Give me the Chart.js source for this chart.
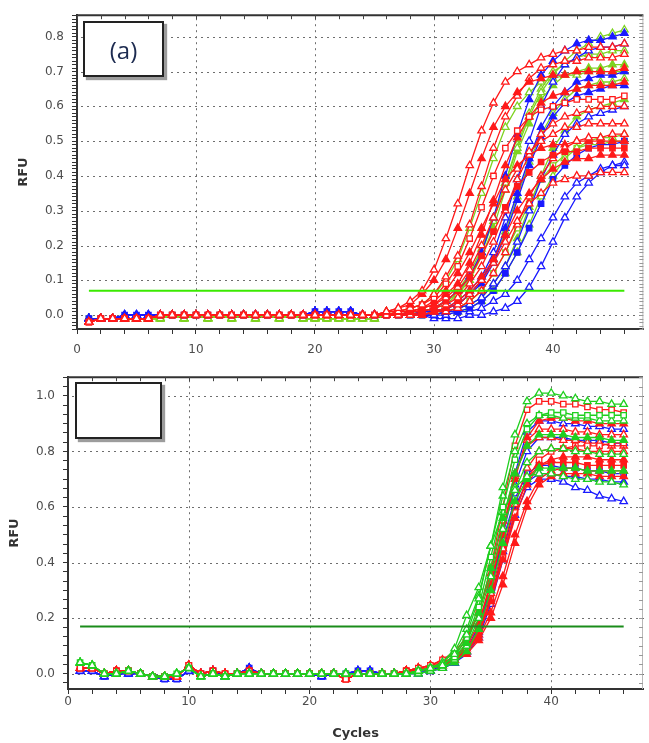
<!DOCTYPE html>
<html>
<head>
<meta charset="utf-8">
<script src="https://cdn.jsdelivr.net/npm/chart.js@4.4.1/dist/chart.umd.min.js"></script>
<style>
  html, body { margin: 0; padding: 0; background: #fff; }
  body { width: 649px; height: 743px; position: relative; overflow: hidden; }
  canvas { position: absolute; left: 0; }
  .tag {
    position: absolute; box-sizing: border-box; background: #fff;
    border: 2px solid #222; box-shadow: 3px 3px 1px #9c9c9c;
    display: flex; align-items: center; justify-content: center;
    font-family: 'Open Sans', sans-serif; font-size: 24px; color: #1d2b50;
  }
</style>
</head>
<body>
<canvas id="topChart" width="649" height="362" style="top:0"></canvas>
<canvas id="bottomChart" width="649" height="381" style="top:362px"></canvas>
<div class="tag" style="left:83px;top:21px;width:81px;height:56px">(a)</div>
<div class="tag" style="left:75px;top:382px;width:87px;height:57px"></div>
<script>
// cycles and axis ticks
const cycles = [1,2,3,4,5,6,7,8,9,10,11,12,13,14,15,16,17,18,19,20,21,22,23,24,25,26,27,28,29,30,31,32,33,34,35,36,37,38,39,40,41,42,43,44,45,46];
const xTicks = [0,2,4,6,8,10,12,14,16,18,20,22,24,26,28,30,32,34,36,38,40,42,44,46];
const xLabels = [0,10,20,30,40];
const topYLabels = [0.0,0.1,0.2,0.3,0.4,0.5,0.6,0.7,0.8];
const bottomYLabels = [0.0,0.2,0.4,0.6,0.8,1.0];

const topThreshold = 0.07;
const bottomThreshold = 0.17;

// panel (a): baselines for cycles 1-25
const topBaseRed   = [-0.02,-0.01,-0.01,-0.01,-0.01,-0.01,0.00,0.00,0.00,0.00,0.00,0.00,0.00,0.00,0.00,0.00,0.00,0.00,0.00,0.00,0.00,0.00,0.00,0.00,0.00];
const topBaseBlue  = [-0.01,-0.01,-0.01,0.00,0.00,0.00,0.00,0.00,0.00,0.00,0.00,0.00,0.00,0.00,0.00,0.00,0.00,0.00,0.00,0.01,0.01,0.01,0.01,0.00,0.00];
const topBaseGreen = [-0.01,-0.01,-0.01,-0.01,-0.01,-0.01,-0.01,0.00,-0.01,0.00,-0.01,0.00,-0.01,0.00,-0.01,0.00,-0.01,0.00,-0.01,-0.01,-0.01,-0.01,-0.01,-0.01,-0.01];

// panel (a): cycles 26-46
const topRed = [
  [0.01,0.02,0.04,0.07,0.13,0.22,0.32,0.43,0.53,0.61,0.67,0.70,0.72,0.74,0.75,0.76,0.76,0.77,0.77,0.77,0.78],
  [0.01,0.02,0.03,0.06,0.10,0.16,0.25,0.35,0.45,0.54,0.60,0.64,0.67,0.68,0.69,0.69,0.70,0.70,0.70,0.70,0.71],
  [0.01,0.01,0.02,0.03,0.06,0.11,0.17,0.26,0.37,0.48,0.57,0.63,0.68,0.71,0.72,0.73,0.73,0.74,0.74,0.74,0.75],
  [0.00,0.01,0.02,0.03,0.05,0.09,0.14,0.22,0.31,0.40,0.48,0.53,0.57,0.59,0.60,0.61,0.62,0.62,0.62,0.62,0.63],
  [0.00,0.01,0.01,0.02,0.03,0.06,0.09,0.15,0.23,0.33,0.43,0.51,0.57,0.61,0.63,0.64,0.65,0.66,0.66,0.66,0.67],
  [0.00,0.00,0.01,0.02,0.03,0.05,0.08,0.13,0.20,0.28,0.36,0.42,0.47,0.50,0.52,0.54,0.54,0.55,0.55,0.55,0.55],
  [0.00,0.00,0.01,0.01,0.02,0.04,0.07,0.11,0.17,0.24,0.31,0.37,0.41,0.44,0.46,0.47,0.47,0.48,0.48,0.48,0.48],
  [0.00,0.00,0.00,0.01,0.02,0.03,0.05,0.09,0.14,0.21,0.30,0.39,0.46,0.52,0.55,0.57,0.58,0.59,0.60,0.60,0.60],
  [0.00,0.00,0.00,0.00,0.01,0.02,0.04,0.07,0.11,0.16,0.23,0.30,0.35,0.39,0.42,0.44,0.45,0.45,0.46,0.46,0.46],
  [0.00,0.00,0.00,0.00,0.01,0.02,0.03,0.06,0.10,0.15,0.21,0.27,0.32,0.35,0.38,0.39,0.40,0.40,0.41,0.41,0.41],
  [0.00,0.00,0.00,0.00,0.01,0.01,0.02,0.04,0.07,0.12,0.18,0.26,0.34,0.40,0.45,0.48,0.50,0.51,0.51,0.52,0.52],
  [0.00,0.01,0.01,0.02,0.04,0.07,0.12,0.18,0.25,0.32,0.39,0.43,0.46,0.48,0.49,0.49,0.50,0.50,0.50,0.50,0.50]
];
const topBlue = [
  [0.00,0.00,0.01,0.01,0.02,0.04,0.07,0.11,0.18,0.28,0.40,0.52,0.62,0.69,0.73,0.76,0.78,0.79,0.79,0.80,0.81],
  [0.00,0.00,0.00,0.01,0.01,0.02,0.04,0.07,0.11,0.18,0.28,0.39,0.50,0.60,0.67,0.72,0.74,0.76,0.77,0.77,0.78],
  [0.00,0.00,0.00,0.01,0.01,0.02,0.03,0.06,0.10,0.16,0.25,0.35,0.45,0.54,0.60,0.64,0.67,0.68,0.69,0.69,0.70],
  [0.00,0.00,0.00,0.00,0.00,0.01,0.02,0.03,0.05,0.09,0.14,0.21,0.30,0.39,0.46,0.52,0.55,0.57,0.58,0.59,0.60],
  [0.00,0.00,0.00,0.00,0.00,0.01,0.01,0.02,0.04,0.07,0.12,0.18,0.25,0.32,0.39,0.43,0.46,0.48,0.49,0.49,0.50],
  [0.00,0.00,0.00,0.00,0.00,0.00,0.01,0.01,0.02,0.04,0.06,0.10,0.16,0.22,0.28,0.34,0.38,0.40,0.42,0.43,0.43],
  [0.00,0.00,0.00,0.00,-0.01,-0.01,-0.01,0.00,0.00,0.01,0.02,0.04,0.08,0.14,0.21,0.28,0.34,0.38,0.41,0.43,0.44],
  [0.00,0.00,0.00,0.01,0.01,0.02,0.03,0.06,0.09,0.15,0.23,0.33,0.43,0.51,0.57,0.61,0.63,0.64,0.65,0.66,0.66]
];
const topGreen = [
  [0.00,0.00,0.01,0.01,0.02,0.04,0.07,0.12,0.19,0.28,0.38,0.48,0.57,0.64,0.69,0.73,0.76,0.78,0.80,0.81,0.82],
  [0.00,0.00,0.01,0.01,0.02,0.04,0.06,0.11,0.18,0.27,0.38,0.49,0.58,0.65,0.70,0.72,0.74,0.75,0.75,0.76,0.76],
  [0.00,0.00,0.01,0.01,0.02,0.03,0.06,0.10,0.17,0.25,0.36,0.47,0.55,0.62,0.66,0.69,0.70,0.71,0.71,0.72,0.72],
  [0.00,0.00,0.00,0.01,0.01,0.02,0.03,0.06,0.10,0.16,0.24,0.34,0.44,0.52,0.58,0.62,0.65,0.66,0.67,0.67,0.68],
  [0.00,0.00,0.00,0.00,0.00,0.01,0.01,0.02,0.04,0.07,0.12,0.18,0.26,0.34,0.40,0.45,0.48,0.50,0.51,0.51,0.52],
  [0.00,0.00,0.00,0.00,0.01,0.01,0.02,0.04,0.07,0.12,0.18,0.25,0.32,0.39,0.43,0.46,0.48,0.49,0.49,0.50,0.50],
  [0.01,0.01,0.02,0.03,0.06,0.10,0.16,0.25,0.35,0.45,0.54,0.60,0.64,0.67,0.68,0.69,0.69,0.70,0.70,0.70,0.70],
  [0.00,0.00,0.00,0.00,0.01,0.01,0.02,0.03,0.05,0.09,0.14,0.22,0.31,0.40,0.48,0.53,0.57,0.59,0.60,0.61,0.62]
];

// bottom panel: baselines for cycles 1-28
const botBaseRed   = [0.02,0.02,0.00,0.01,0.01,0.00,-0.01,-0.01,-0.01,0.03,0.00,0.01,0.00,0.00,0.01,0.00,0.00,0.00,0.00,0.00,0.00,0.00,-0.02,0.00,0.00,0.00,0.00,0.01];
const botBaseBlue  = [0.01,0.01,-0.01,0.00,0.00,0.00,-0.01,-0.02,-0.02,0.01,0.00,0.01,-0.01,0.00,0.02,0.00,0.00,0.00,0.00,0.00,-0.01,0.00,0.00,0.01,0.01,0.00,0.00,0.00];
const botBaseGreen = [0.04,0.03,0.00,0.00,0.01,0.00,-0.01,-0.01,0.00,0.02,-0.01,0.00,-0.01,0.00,0.00,0.00,0.00,0.00,0.00,0.00,0.00,0.00,0.00,0.00,0.00,0.00,0.00,0.00];

// bottom panel: cycles 29-46
const botRed = [
  [0.02,0.03,0.05,0.07,0.12,0.22,0.38,0.60,0.82,0.95,0.98,0.98,0.97,0.97,0.96,0.95,0.95,0.94],
  [0.02,0.02,0.03,0.06,0.10,0.18,0.32,0.50,0.70,0.85,0.91,0.92,0.92,0.91,0.91,0.90,0.90,0.90],
  [0.01,0.02,0.04,0.06,0.09,0.16,0.29,0.45,0.61,0.74,0.80,0.81,0.81,0.81,0.80,0.80,0.80,0.80],
  [0.01,0.02,0.03,0.05,0.08,0.14,0.26,0.41,0.56,0.68,0.75,0.77,0.78,0.78,0.78,0.77,0.77,0.77],
  [0.02,0.03,0.04,0.05,0.08,0.13,0.22,0.35,0.50,0.62,0.70,0.73,0.74,0.74,0.73,0.73,0.73,0.73],
  [0.01,0.02,0.03,0.05,0.09,0.15,0.27,0.42,0.58,0.70,0.77,0.80,0.81,0.82,0.82,0.82,0.83,0.83],
  [0.02,0.02,0.03,0.05,0.07,0.12,0.20,0.32,0.47,0.60,0.68,0.71,0.72,0.72,0.72,0.71,0.71,0.71],
  [0.01,0.02,0.04,0.06,0.10,0.18,0.33,0.52,0.71,0.84,0.88,0.88,0.88,0.87,0.87,0.86,0.86,0.86],
  [0.01,0.02,0.03,0.05,0.08,0.15,0.27,0.43,0.58,0.70,0.75,0.76,0.76,0.76,0.75,0.75,0.75,0.75],
  [0.02,0.03,0.05,0.08,0.13,0.22,0.36,0.55,0.72,0.82,0.85,0.85,0.84,0.84,0.83,0.83,0.82,0.82]
];
const botBlue = [
  [0.01,0.01,0.02,0.04,0.08,0.15,0.30,0.50,0.72,0.87,0.91,0.91,0.90,0.90,0.89,0.89,0.88,0.88],
  [0.00,0.01,0.02,0.04,0.07,0.13,0.25,0.41,0.57,0.67,0.70,0.70,0.69,0.67,0.66,0.64,0.63,0.62],
  [0.01,0.01,0.02,0.04,0.08,0.14,0.27,0.44,0.60,0.69,0.72,0.72,0.71,0.71,0.70,0.70,0.69,0.69],
  [0.00,0.01,0.02,0.04,0.08,0.16,0.31,0.50,0.68,0.80,0.85,0.85,0.85,0.84,0.84,0.84,0.83,0.83],
  [0.01,0.01,0.03,0.05,0.09,0.17,0.31,0.48,0.63,0.72,0.75,0.75,0.74,0.74,0.73,0.73,0.72,0.72]
];
const botGreen = [
  [0.01,0.02,0.03,0.07,0.14,0.27,0.46,0.67,0.86,0.98,1.01,1.01,1.00,0.99,0.98,0.98,0.97,0.97],
  [0.01,0.02,0.03,0.06,0.13,0.24,0.42,0.60,0.77,0.88,0.93,0.94,0.94,0.93,0.93,0.93,0.93,0.93],
  [0.01,0.02,0.03,0.06,0.11,0.22,0.38,0.56,0.72,0.82,0.86,0.86,0.86,0.85,0.85,0.85,0.84,0.84],
  [0.00,0.01,0.02,0.05,0.10,0.20,0.35,0.52,0.66,0.76,0.80,0.81,0.81,0.80,0.80,0.79,0.79,0.79],
  [0.01,0.02,0.04,0.09,0.21,0.31,0.46,0.58,0.67,0.71,0.72,0.72,0.71,0.70,0.70,0.69,0.69,0.68],
  [0.00,0.01,0.02,0.04,0.08,0.16,0.30,0.47,0.62,0.70,0.74,0.74,0.74,0.74,0.73,0.73,0.73,0.73],
  [0.01,0.02,0.04,0.08,0.16,0.28,0.46,0.64,0.80,0.90,0.93,0.93,0.92,0.92,0.92,0.91,0.91,0.91]
];

// marker styles per series
const topRedMarks   = ['open','fill','open','rect','fill','open','rectFill','open','fill','open','open','fill'];
const topBlueMarks  = ['fill','open','fill','open','rectFill','open','open','fill'];
const topGreenMarks = ['open','open','fill','open','open','rect','open','fill'];
const botRedMarks   = ['rect','fill','open','fill','fill','rect','fill','open','rectFill','open'];
const botBlueMarks  = ['open','open','fill','open','rect'];
const botGreenMarks = ['open','rect','fill','open','open','fill','open'];

const RED = '#ff1a1a';
const BLUE = '#1a1aff';
const LIME = '#7ed321';
const GREEN = '#1fcf1f';
const FONT = "'DejaVu Sans', sans-serif";

function curve(values, color, mark) {
    const rect = mark.startsWith('rect');
    const filled = mark === 'fill' || mark === 'rectFill';
    return {
        data: values,
        borderColor: color,
        borderWidth: 1.3,
        pointStyle: rect ? 'rect' : 'triangle',
        pointRadius: rect ? 3.8 : 4.3,
        pointBorderWidth: 1.3,
        pointBorderColor: color,
        pointBackgroundColor: filled ? color : '#fff',
        tension: 0,
        fill: false
    };
}

function threshold(value, color) {
    return {
        data: [{x: cycles[0], y: value}, {x: cycles[cycles.length - 1], y: value}],
        borderColor: color,
        borderWidth: 2,
        pointRadius: 0,
        order: -1
    };
}

function isMajor(v, labels) {
    return labels.some(l => Math.abs(l - v) < 1e-6);
}

// dotted grid under the curves, drawn as small dots
const gridPlugin = {
    id: 'dotGrid',
    beforeDatasetsDraw(chart) {
        const {ctx, chartArea: a, scales} = chart;
        const yLabels = chart.options.plugins.dotGrid.yLabels;
        ctx.save();
        ctx.fillStyle = '#6e6e6e';
        xLabels.filter(v => v > 0).forEach(v => {
            const px = Math.round(scales.x.getPixelForValue(v));
            for (let y = a.top + 3; y < a.bottom; y += 6) ctx.fillRect(px, y, 1, 2);
        });
        yLabels.forEach(v => {
            const py = Math.round(scales.y.getPixelForValue(v));
            for (let x = a.left + 4; x < a.right; x += 6) ctx.fillRect(x, py, 2, 1);
        });
        ctx.restore();
    }
};

// top/right frame with inner ticks
const framePlugin = {
    id: 'frame',
    afterDatasetsDraw(chart) {
        const {ctx, chartArea: a, scales} = chart;
        ctx.save();
        ctx.strokeStyle = '#333';
        ctx.lineWidth = 2;
        ctx.beginPath();
        ctx.moveTo(a.left, a.top);
        ctx.lineTo(a.right, a.top);
        ctx.stroke();
        ctx.strokeStyle = '#b8b8b8';
        ctx.lineWidth = 1;
        ctx.beginPath();
        ctx.moveTo(a.right - 0.5, a.top);
        ctx.lineTo(a.right - 0.5, a.bottom);
        ctx.stroke();
        ctx.strokeStyle = '#444';
        ctx.beginPath();
        scales.x.ticks.forEach(t => {
            const px = Math.round(scales.x.getPixelForValue(t.value)) + 0.5;
            ctx.moveTo(px, a.top);
            ctx.lineTo(px, a.top + 4);
        });
        ctx.stroke();
        ctx.strokeStyle = '#999';
        ctx.beginPath();
        scales.y.ticks.forEach(t => {
            const py = Math.round(scales.y.getPixelForValue(t.value)) + 0.5;
            ctx.moveTo(a.right - 4, py);
            ctx.lineTo(a.right, py);
        });
        ctx.stroke();
        ctx.restore();
    }
};

function makeChart(id, datasets, o) {
    const yTicks = [];
    for (let i = o.yFrom; i <= o.yTo; i++) yTicks.push(i * o.yStep);

    return new Chart(document.getElementById(id), {
        type: 'line',
        data: { labels: cycles, datasets: datasets },
        options: {
            responsive: false,
            animation: false,
            events: [],
            layout: { padding: { left: 0, top: o.padTop, right: o.padRight, bottom: 0 } },
            plugins: {
                legend: { display: false },
                tooltip: { enabled: false },
                dotGrid: { yLabels: o.yLabels }
            },
            scales: {
                x: {
                    type: 'linear',
                    min: 0,
                    max: 47.6,
                    afterBuildTicks: s => { s.ticks = xTicks.map(v => ({ value: v })); },
                    afterFit: s => { s.height = o.xHeight; },
                    ticks: {
                        autoSkip: false, maxRotation: 0, padding: o.xPad,
                        color: '#4d4d4d', font: { family: FONT, size: 12 },
                        callback: v => xLabels.includes(v) ? String(v) : ''
                    },
                    grid: { drawOnChartArea: false, tickColor: '#333', tickLength: 5 },
                    border: { color: '#333', width: 2 },
                    title: o.xTitle ? {
                        display: true, text: o.xTitle, color: '#333',
                        font: { family: FONT, size: 13, weight: 'bold' },
                        padding: { top: 0, bottom: 2 }
                    } : { display: false }
                },
                y: {
                    min: o.yMin,
                    max: o.yMax,
                    afterBuildTicks: s => { s.ticks = yTicks.map(v => ({ value: v })); },
                    afterFit: s => { s.width = o.yWidth; },
                    ticks: {
                        autoSkip: false, padding: 8,
                        color: '#4d4d4d', font: { family: FONT, size: 12 },
                        callback: v => isMajor(v, o.yLabels) ? v.toFixed(1) : ''
                    },
                    grid: { drawOnChartArea: false, tickColor: '#333', tickLength: 5 },
                    border: { color: '#333', width: 2 },
                    title: {
                        display: true, text: 'RFU', color: '#333',
                        font: { family: FONT, size: 13, weight: 'bold' },
                        padding: { top: o.yTitlePad, bottom: 0 }
                    }
                }
            }
        },
        plugins: [gridPlugin, framePlugin]
    });
}

// panel (a)
const topSets = [threshold(topThreshold, '#3bea00')];
topRed.forEach((v, i) => topSets.push(curve(topBaseRed.concat(v), RED, topRedMarks[i])));
topBlue.forEach((v, i) => topSets.push(curve(topBaseBlue.concat(v), BLUE, topBlueMarks[i])));
topGreen.forEach((v, i) => topSets.push(curve(topBaseGreen.concat(v), LIME, topGreenMarks[i])));

makeChart('topChart', topSets, {
    padTop: 7, padRight: 4, xHeight: 33, xPad: 9, yWidth: 77, yTitlePad: 16,
    yMin: -0.04, yMax: 0.862, yStep: 0.01, yFrom: -4, yTo: 86, yLabels: topYLabels
});

// bottom panel
const botSets = [threshold(bottomThreshold, '#1a8c1a')];
botGreen.forEach((v, i) => botSets.push(curve(botBaseGreen.concat(v), GREEN, botGreenMarks[i])));
botRed.forEach((v, i) => botSets.push(curve(botBaseRed.concat(v), RED, botRedMarks[i])));
botBlue.forEach((v, i) => botSets.push(curve(botBaseBlue.concat(v), BLUE, botBlueMarks[i])));

makeChart('bottomChart', botSets, {
    padTop: 12, padRight: 6, xHeight: 54, xPad: 1, yWidth: 68, yTitlePad: 7, xTitle: 'Cycles',
    yMin: -0.055, yMax: 1.067, yStep: 1 / 30, yFrom: -1, yTo: 32, yLabels: bottomYLabels
});
</script>
</body>
</html>
